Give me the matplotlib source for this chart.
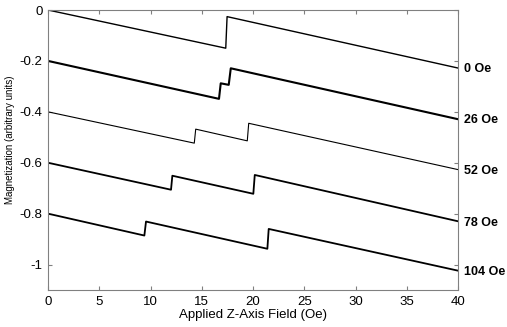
import matplotlib
matplotlib.use("Agg")
import matplotlib.pyplot as plt

plt.rcParams["font.family"] = ["Liberation Sans", "DejaVu Sans"]

# field (Oe) / magnetization break points for each curve
x_0 = [0, 17.34, 17.47, 40]
m_0 = [0, -0.150, -0.026, -0.228]
x_26 = [0, 16.68, 16.85, 17.63, 17.83, 40]
m_26 = [-0.2, -0.349, -0.288, -0.294, -0.229, -0.429]
x_52 = [0, 14.27, 14.41, 19.44, 19.58, 40]
m_52 = [-0.4, -0.523, -0.468, -0.514, -0.445, -0.627]
x_78 = [0, 12.0, 12.13, 20.03, 20.17, 40]
m_78 = [-0.6, -0.706, -0.651, -0.722, -0.648, -0.830]
x_104 = [0, 9.40, 9.56, 21.40, 21.53, 40]
m_104 = [-0.8, -0.886, -0.831, -0.938, -0.860, -1.024]

labels = ["0 Oe", "26 Oe", "52 Oe", "78 Oe", "104 Oe"]
xs = [x_0, x_26, x_52, x_78, x_104]
ms = [m_0, m_26, m_52, m_78, m_104]
widths = [1.0, 1.5, 0.8, 1.3, 1.3]

yticks = [0, -0.2, -0.4, -0.6, -0.8, -1]
ytick_labels = ["0", "-0.2", "-0.4", "-0.6", "-0.8", "-1"]
xticks = list(range(0, 41, 5))

fig = plt.figure(figsize=(5.07, 3.27), dpi=100)
ax = fig.add_axes([0.0947, 0.1131, 0.8087, 0.8563])

for x, m, lw, lab in zip(xs, ms, widths, labels):
    ax.plot(x, m, color="black", lw=lw)
    ax.text(40.6, m[-1] - 0.005, lab, fontsize=9, fontweight="bold", va="center", ha="left")

ax.set_xlim(0, 40)
ax.set_ylim(-1.1, 0)
ax.set_xticks(xticks)
ax.set_xticklabels([str(t) for t in xticks])
ax.set_yticks(yticks)
ax.set_yticklabels(ytick_labels)
ax.tick_params(direction="in", top=True, right=True, length=3, color="#808080",
               labelsize=9.5, pad=4)
for s in ax.spines.values():
    s.set_color("#808080")
    s.set_linewidth(0.8)

ax.set_xlabel("Applied Z-Axis Field (Oe)", fontsize=9.5, labelpad=1)
ax.set_ylabel("Magnetization (arbitrary units)", fontsize=7)
ax.yaxis.set_label_coords(-0.08, 0.536)

fig.savefig("out.png", dpi=100)
